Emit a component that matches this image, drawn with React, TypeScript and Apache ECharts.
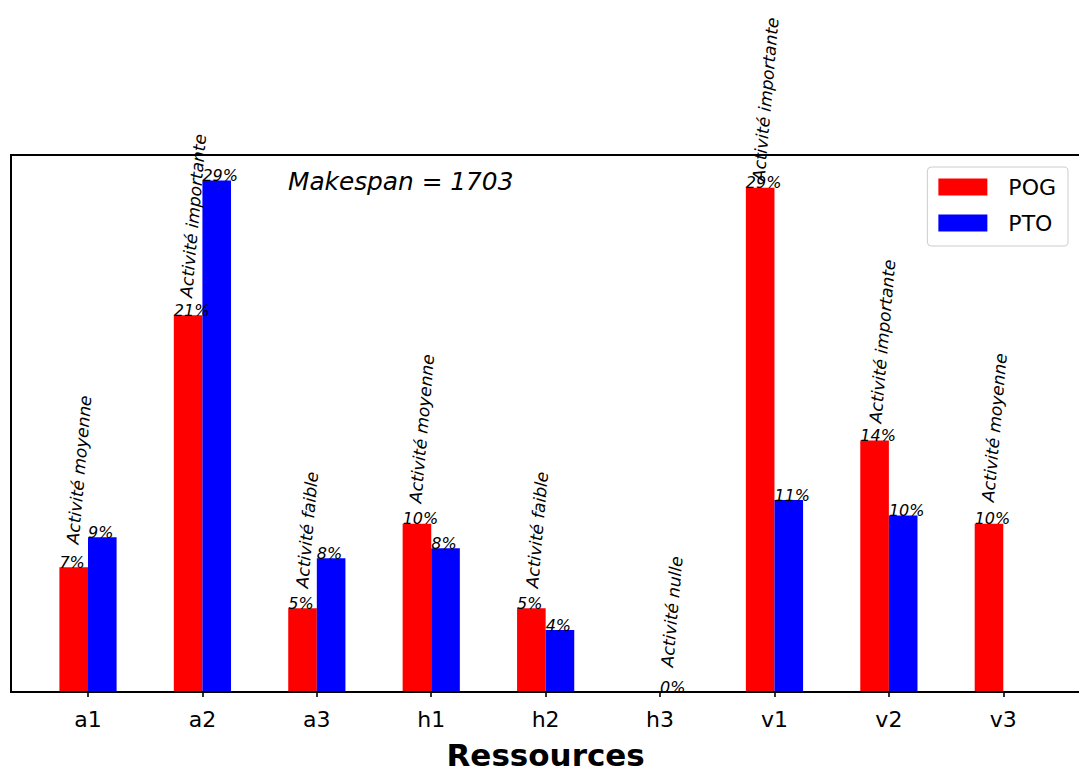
import React, { useEffect, useRef } from "react";
import * as echarts from "echarts";

const categories = ["a1", "a2", "a3", "h1", "h2", "h3", "v1", "v2", "v3"];
const pogValues = [7.09, 21.4, 4.76, 9.55, 4.76, 0, 28.64, 14.28, 9.55];
const ptoValues = [8.79, 29.05, 7.6, 8.16, 3.52, 0, 10.9, 10.02, 0];
const pogLabels = ["7%", "21%", "5%", "10%", "5%", "", "29%", "14%", "10%"];
const ptoLabels = ["9%", "29%", "8%", "8%", "4%", "0%", "11%", "10%", ""];
const activityLabels = [
  "Activité moyenne",
  "Activité importante",
  "Activité faible",
  "Activité moyenne",
  "Activité faible",
  "Activité nulle",
  "Activité importante",
  "Activité importante",
  "Activité moyenne",
];
const activityX = [-0.135, 0.856, 1.87, 2.86, 3.88, 5.06, 5.86, 6.88, 7.865];
const activityY = [8.41, 22.41, 5.91, 10.74, 5.91, 1.42, 29.03, 15.28, 10.8];
const yMax = 30.5;
const makespanText = "Makespan = 1703";
const xTitle = "Ressources";

const FONT = "DejaVu Sans";

export default function App() {
  const ref = useRef<HTMLDivElement>(null);
  useEffect(() => {
    if (!ref.current) return;
    const chart = echarts.init(ref.current, null, { renderer: "svg" });
    const valueLabel = (labels: string[]) => ({
      show: true,
      position: [0, 0] as any,
      offset: [0, 3],
      align: "left",
      verticalAlign: "bottom",
      fontFamily: FONT,
      fontStyle: "italic",
      fontSize: 16,
      color: "#000",
      formatter: (p: any) => labels[p.dataIndex],
    });
    chart.setOption({
      animation: false,
      backgroundColor: "#fff",
      grid: {
        left: 30.8,
        right: 18.5,
        top: 155,
        bottom: 79,
        containLabel: false,
        outerBoundsMode: "none",
      },
      xAxis: [
        {
          type: "category",
          data: categories,
          axisLine: { show: false },
          axisTick: { show: true, alignWithLabel: true, length: 5, lineStyle: { color: "#000", width: 1.6 } },
          axisLabel: { fontFamily: FONT, fontSize: 22, color: "#000", margin: 16 },
          name: xTitle,
          nameLocation: "middle",
          nameGap: 47,
          nameTextStyle: { fontFamily: FONT, fontSize: 31, fontWeight: "bold", color: "#000", lineHeight: 31 },
        },
        { type: "value", show: false, min: -0.5, max: 8.5 },
      ],
      yAxis: { type: "value", min: 0, max: yMax, show: false },
      legend: {
        orient: "vertical",
        right: 11,
        top: 167,
        itemWidth: 49,
        itemHeight: 17,
        itemGap: 14,
        padding: [9, 12, 12, 11],
        backgroundColor: "#fff",
        borderColor: "#cccccc",
        borderWidth: 1,
        borderRadius: 4,
        icon: "rect",
        textStyle: { fontFamily: FONT, fontSize: 22, color: "#000", padding: [0, 0, 0, 16] },
        data: ["POG", "PTO"],
      },
      graphic: [
        {
          type: "rect",
          z: 100,
          silent: true,
          shape: { x: 11, y: 155, width: 1200, height: 537 },
          style: { fill: "none", stroke: "#000", lineWidth: 2 },
        },
        {
          type: "text",
          x: 288,
          y: 181,
          style: {
            text: makespanText,
            fontFamily: FONT,
            fontStyle: "italic",
            fontSize: 24.8,
            fill: "#000",
            verticalAlign: "middle",
          },
        },
      ],
      series: [
        {
          name: "POG",
          type: "bar",
          data: pogValues,
          barWidth: 28.6,
          barGap: "0%",
          itemStyle: { color: "#ff0000" },
          label: valueLabel(pogLabels),
        },
        {
          name: "PTO",
          type: "bar",
          data: ptoValues,
          barWidth: 28.6,
          barGap: "0%",
          itemStyle: { color: "#0000ff" },
          label: valueLabel(ptoLabels),
        },
        {
          name: "annotations",
          type: "scatter",
          xAxisIndex: 1,
          symbolSize: 0,
          silent: true,
          itemStyle: { color: "#000", opacity: 1 },
          data: activityX.map((x, i) => [x, activityY[i]]),
          label: {
            show: true,
            position: [0, 0],
            align: "left",
            verticalAlign: "middle",
            rotate: 85,
            fontFamily: FONT,
            fontStyle: "italic",
            fontSize: 17,
            color: "#000",
            opacity: 1,
            textBorderWidth: 0,
            formatter: (p: any) => activityLabels[p.dataIndex],
          },
        },
      ],
    });
    return () => chart.dispose();
  }, []);
  return (
    <div
      ref={ref}
      style={{ position: "absolute", left: 0, top: 0, width: 1079, height: 771 }}
    />
  );
}
